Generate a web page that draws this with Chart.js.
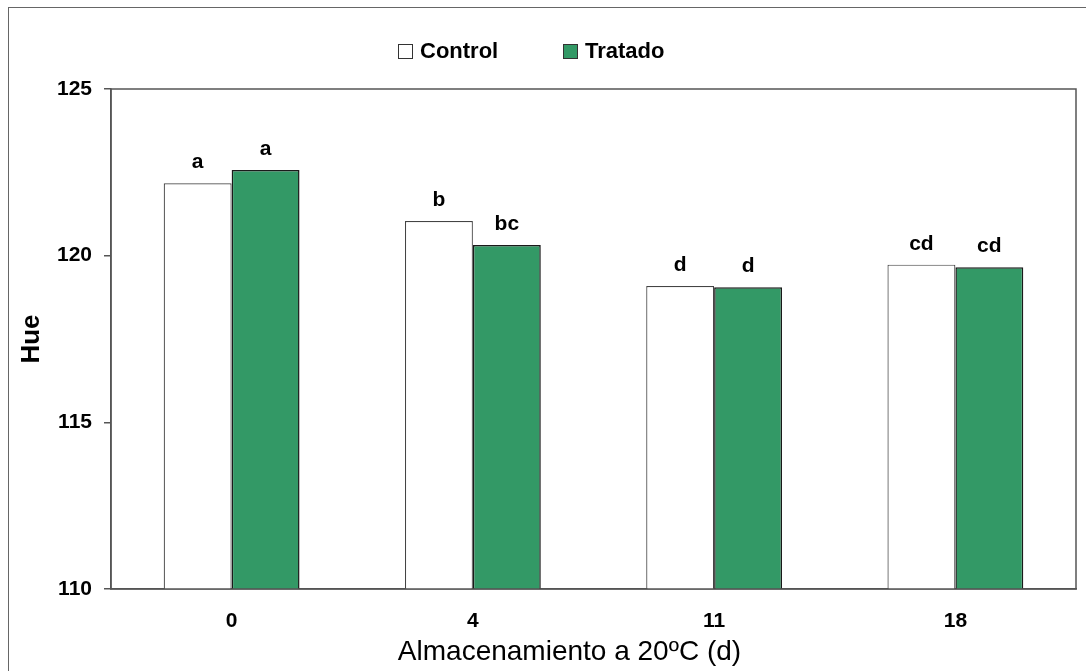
<!DOCTYPE html>
<html lang="es">
  <head>
    <meta charset="UTF-8" />
    <title>Hue - Almacenamiento a 20ºC</title>
    <script src="https://cdn.jsdelivr.net/npm/chart.js"></script>
    <style>
      html, body { margin: 0; padding: 0; background: #fff; overflow: hidden; }
      .wrap { position: relative; width: 1086px; height: 671px; }
      .frame {
        position: absolute; left: 8px; top: 7px; width: 1200px; height: 800px;
        border: 1px solid #666; box-sizing: border-box;
      }
      .legend { position: absolute; top: 0; left: 0; font: bold 22px "Liberation Sans", Arial, sans-serif; color: #000; }
      .legend .box { position: absolute; width: 13px; height: 13px; border: 1px solid #333; top: 44px; }
      .legend .txt { position: absolute; top: 40px; line-height: 22px; white-space: nowrap; }
      canvas { position: absolute; left: 0; top: 0; }
    </style>
  </head>
  <body>
    <div class="wrap">
      <div class="frame"></div>
      <canvas id="hueChart" width="1086" height="671"></canvas>
      <div class="legend">
        <span class="box" style="left: 398px; background: #fff"></span>
        <span class="txt" style="left: 420px">Control</span>
        <span class="box" style="left: 563px; background: #339966"></span>
        <span class="txt" style="left: 585px">Tratado</span>
      </div>
    </div>

    <script>
      // data
      var days = ["0", "4", "11", "18"];
      var controlHue = [122.17, 121.04, 119.09, 119.73];
      var tratadoHue = [122.57, 120.32, 119.05, 119.65];
      var controlLetters = ["a", "b", "d", "cd"];
      var tratadoLetters = ["a", "bc", "d", "cd"];
      var yTicks = [110, 115, 120, 125];
      var xTitle = "Almacenamiento a 20ºC (d)";

      var FONT = '"Liberation Sans", Arial, sans-serif';

      // letters above each bar
      var barLetters = {
        id: "barLetters",
        afterDatasetsDraw: function (chart) {
          var ctx = chart.ctx;
          var letters = [controlLetters, tratadoLetters];
          ctx.save();
          ctx.font = "bold 21px " + FONT;
          ctx.fillStyle = "#000";
          ctx.textAlign = "center";
          ctx.textBaseline = "alphabetic";
          chart.data.datasets.forEach(function (ds, i) {
            chart.getDatasetMeta(i).data.forEach(function (bar, j) {
              ctx.fillText(letters[i][j], bar.x, bar.y - 15);
            });
          });
          ctx.restore();
        },
      };

      // box around the plot area + x title (sits a bit left of the plot centre)
      var plotFrame = {
        id: "plotFrame",
        afterDraw: function (chart) {
          var a = chart.chartArea;
          var ctx = chart.ctx;
          ctx.save();
          ctx.strokeStyle = "#555";
          ctx.lineWidth = 1.5;
          ctx.strokeRect(a.left, a.top, a.right - a.left, a.bottom - a.top);

          ctx.font = "28px " + FONT;
          ctx.fillStyle = "#000";
          ctx.textAlign = "center";
          ctx.textBaseline = "alphabetic";
          ctx.fillText(xTitle, (a.left + a.right) / 2 - 24, 660);
          ctx.restore();
        },
      };

      var ctx = document.getElementById("hueChart").getContext("2d");
      var hueChart = new Chart(ctx, {
        type: "bar",
        data: {
          labels: days,
          datasets: [
            {
              label: "Control",
              data: controlHue,
              backgroundColor: "#ffffff",
              borderColor: "#444",
              borderWidth: 1.2,
            },
            {
              label: "Tratado",
              data: tratadoHue,
              backgroundColor: "#339966",
              borderColor: "#1a1a1a",
              borderWidth: 1.5,
            },
          ],
        },
        options: {
          responsive: false,
          animation: false,
          layout: { padding: { top: 89, right: 10, left: 0, bottom: 0 } },
          datasets: {
            bar: { categoryPercentage: 0.563, barPercentage: 1.0 },
          },
          plugins: {
            legend: { display: false },
            tooltip: { enabled: false },
          },
          scales: {
            x: {
              grid: { display: false, drawTicks: false },
              border: { display: true, color: "#555", width: 1.5 },
              ticks: {
                color: "#000",
                font: { family: FONT, size: 21, weight: "bold" },
                padding: 20,
              },
              afterFit: function (scale) {
                scale.height = 82;
              },
            },
            y: {
              min: 110,
              max: 125,
              afterBuildTicks: function (scale) {
                scale.ticks = yTicks.map(function (v) {
                  return { value: v };
                });
              },
              grid: {
                drawOnChartArea: false,
                color: "#555",
                tickLength: 7,
                lineWidth: 1.5,
              },
              border: { display: true, color: "#555", width: 1.5 },
              ticks: {
                color: "#000",
                font: { family: FONT, size: 21, weight: "bold" },
                padding: 12,
              },
              title: {
                display: true,
                text: "Hue",
                color: "#000",
                font: { family: FONT, size: 26, weight: "bold" },
                padding: { top: 16, bottom: 0 },
              },
              afterFit: function (scale) {
                scale.width = 111;
              },
            },
          },
        },
        plugins: [barLetters, plotFrame],
      });
    </script>
  </body>
</html>
